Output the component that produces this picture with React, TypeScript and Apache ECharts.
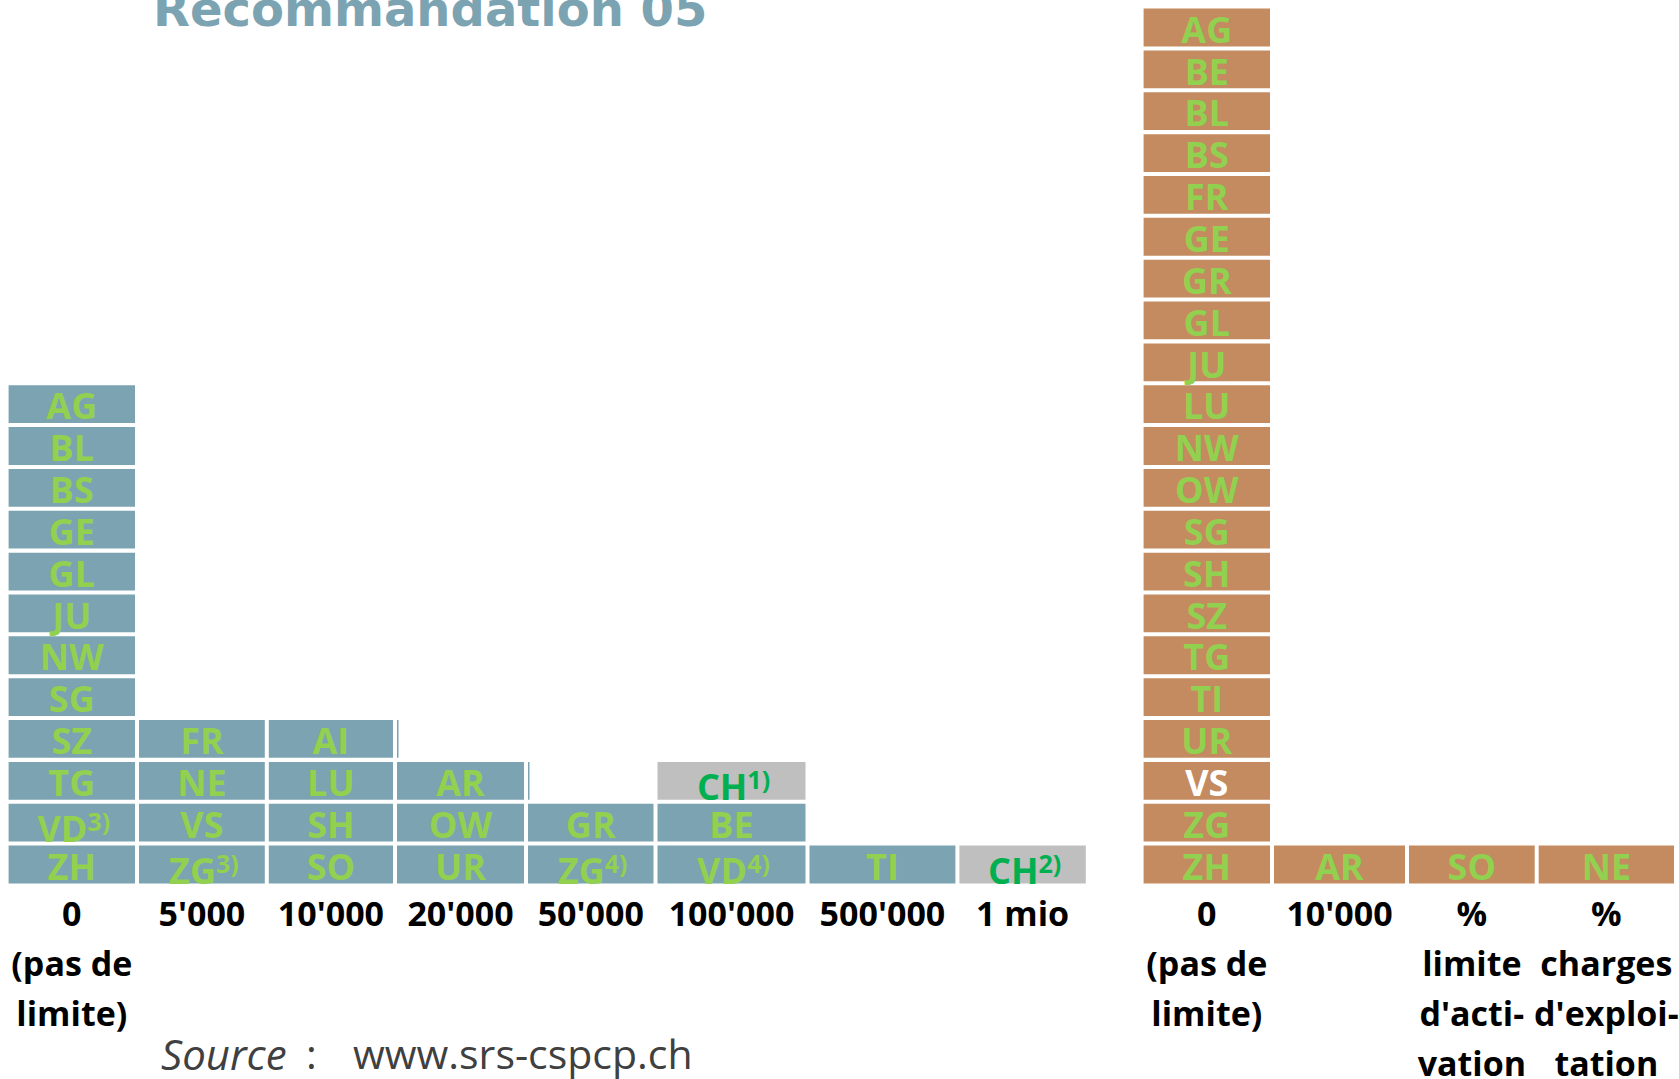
import React, { useEffect, useRef } from "react";
import * as echarts from "echarts";

// ---------- data ----------
const titleText = "Recommandation 05";
const sourceWord = "Source";
const sourceColon = ":";
const sourceUrl = "www.srs-cspcp.ch";

const leftCategories = ["0\n(pas de\nlimite)", "5'000", "10'000", "20'000", "50'000", "100'000", "500'000", "1 mio"];
// each column listed from bottom to top; "^" introduces a superscript note, "" is an empty sliver
const leftColumns: string[][] = [
  ["ZH", "VD^3)", "TG", "SZ", "SG", "NW", "JU", "GL", "GE", "BS", "BL", "AG"],
  ["ZG^3)", "VS", "NE", "FR"],
  ["SO", "SH", "LU", "AI"],
  ["UR", "OW", "AR", ""],
  ["ZG^4)", "GR", ""],
  ["VD^4)", "BE", "CH^1)"],
  ["TI"],
  ["CH^2)"],
];

const rightCategories = ["0\n(pas de\nlimite)", "10'000", "%\nlimite\nd'acti-\nvation", "%\ncharges\nd'exploi-\ntation"];
const rightColumns: string[][] = [
  ["ZH", "ZG", "VS", "UR", "TI", "TG", "SZ", "SH", "SG", "OW", "NW", "LU", "JU", "GL", "GR", "GE", "FR", "BS", "BL", "BE", "AG"],
  ["AR"],
  ["SO"],
  ["NE"],
];
const rightHighlight = ["VS"];

// ---------- layout / style ----------
const LEFT_COL_UNITS = [130.4, 129.8, 128.2, 131, 129.5, 152, 149.9, 130.4];
const RIGHT_COL_UNITS = [130.4, 135, 129.7, 139.3];
const ROWS = 21;
const GAP_X = 4;
const GAP_Y = 4.05;
const GRID_TOP = 4.55;
const GRID_H = 878.85;
const BLUE = "#7BA3B1";
const ORANGE = "#C38B5F";
const GREY = "#BFBFBF";
const GREEN = "#92D050";
const DARK_GREEN = "#00B050";
const CELL_FONT = "Open Sans";

type Cell = { label: string; panel: "L" | "R" };

function buildCells(columns: string[][], units: number[], panel: "L" | "R") {
  const cells: Cell[] = [];
  const data: number[][] = [];
  const centers: number[] = [];
  let start = 0;
  columns.forEach((col, i) => {
    const end = start + units[i] - GAP_X;
    centers.push((start + end) / 2);
    col.forEach((label, r) => {
      cells.push({ label, panel });
      data.push([start, r, end]);
    });
    start += units[i];
  });
  return { cells, data, centers, total: start };
}

const left = buildCells(leftColumns, LEFT_COL_UNITS, "L");
const right = buildCells(rightColumns, RIGHT_COL_UNITS, "R");

function makeRender(cells: Cell[]) {
  return (params: any, api: any) => {
    const cell = cells[params.dataIndex];
    const x0 = api.value(0);
    const r = api.value(1);
    const x1 = api.value(2);
    const tl = api.coord([x0, r + 1]);
    const br = api.coord([x1, r]);
    const h = br[1] - tl[1] - GAP_Y;
    const top = br[1] - h;
    if (cell.label === "") {
      return {
        type: "rect",
        shape: { x: tl[0], y: top, width: 1.5, height: h },
        style: { fill: BLUE },
      };
    }
    const [main, sup] = cell.label.split("^");
    const isCH = main === "CH";
    const bg = isCH ? GREY : cell.panel === "L" ? BLUE : ORANGE;
    let fg = isCH ? DARK_GREEN : GREEN;
    if (cell.panel === "R" && rightHighlight.includes(main)) fg = "#FFFFFF";
    const cx = (tl[0] + br[0]) / 2;
    const textEl: any = sup
      ? {
          type: "text",
          x: cx + 2,
          y: br[1] - 13,
          style: {
            text: `{m|${main}}{s|${sup}}`,
            align: "center",
            verticalAlign: "middle",
            rich: {
              m: { fontSize: 36, fontWeight: "bold", fontFamily: CELL_FONT, fill: fg, lineHeight: 40 },
              s: { fontSize: 25, fontWeight: "bold", fontFamily: CELL_FONT, fill: fg, lineHeight: 25, verticalAlign: "top" },
            },
          },
        }
      : {
          type: "text",
          x: cx,
          y: br[1] - 17.2,
          style: {
            text: main,
            fill: fg,
            fontSize: 36,
            fontWeight: "bold",
            fontFamily: CELL_FONT,
            align: "center",
            verticalAlign: "middle",
          },
        };
    return {
      type: "group",
      children: [
        { type: "rect", shape: { x: tl[0], y: top, width: br[0] - tl[0], height: h }, style: { fill: bg } },
        textEl,
      ],
    };
  };
}

function axisFor(gridIndex: number, total: number, centers: number[], cats: string[]) {
  return {
    gridIndex,
    type: "value",
    min: 0,
    max: total,
    axisLine: { show: false },
    axisTick: { show: false },
    splitLine: { show: false },
    axisLabel: {
      show: true,
      customValues: centers,
      formatter: (v: number) => {
        const i = centers.findIndex((c) => Math.abs(c - v) < 0.01);
        return i >= 0 ? cats[i] : "";
      },
      fontFamily: CELL_FONT,
      fontWeight: "bold",
      fontSize: 34,
      lineHeight: 50,
      color: "#000000",
      margin: 5,
      align: "center",
    },
  };
}

export default function App() {
  const ref = useRef<HTMLDivElement>(null);
  useEffect(() => {
    if (!ref.current) return;
    const chart = echarts.init(ref.current, undefined, { renderer: "svg" });
    chart.setOption({
      animation: false,
      backgroundColor: "#FFFFFF",
      grid: [
        { left: 8.6, top: GRID_TOP, width: left.total, height: GRID_H, containLabel: false, outerBoundsMode: "none" },
        { left: 1143.6, top: GRID_TOP, width: right.total, height: GRID_H, containLabel: false, outerBoundsMode: "none" },
      ],
      xAxis: [
        axisFor(0, left.total, left.centers, leftCategories),
        axisFor(1, right.total, right.centers, rightCategories),
      ],
      yAxis: [
        { gridIndex: 0, type: "value", min: 0, max: ROWS, show: false },
        { gridIndex: 1, type: "value", min: 0, max: ROWS, show: false },
      ],
      series: [
        {
          type: "custom",
          xAxisIndex: 0,
          yAxisIndex: 0,
          data: left.data,
          renderItem: makeRender(left.cells),
          silent: true,
        },
        {
          type: "custom",
          xAxisIndex: 1,
          yAxisIndex: 1,
          data: right.data,
          renderItem: makeRender(right.cells),
          silent: true,
        },
      ],
      graphic: [
        {
          type: "text",
          x: 153,
          y: 9,
          style: {
            text: titleText,
            fill: BLUE,
            fontSize: 48,
            fontWeight: "bold",
            fontFamily: "DejaVu Sans",
            align: "left",
            verticalAlign: "middle",
          },
        },
        {
          type: "text",
          x: 161,
          y: 1053,
          style: { text: sourceWord, fill: "#404040", fontSize: 42, fontStyle: "italic", fontFamily: CELL_FONT, align: "left", verticalAlign: "middle" },
        },
        {
          type: "text",
          x: 306,
          y: 1053,
          style: { text: sourceColon, fill: "#404040", fontSize: 41, fontFamily: CELL_FONT, align: "left", verticalAlign: "middle" },
        },
        {
          type: "text",
          x: 353,
          y: 1053,
          style: { text: sourceUrl, fill: "#404040", fontSize: 41, fontFamily: CELL_FONT, align: "left", verticalAlign: "middle" },
        },
      ],
    });
    return () => chart.dispose();
  }, []);
  return <div ref={ref} style={{ position: "fixed", left: 0, top: 0, width: 1679, height: 1079 }} />;
}
